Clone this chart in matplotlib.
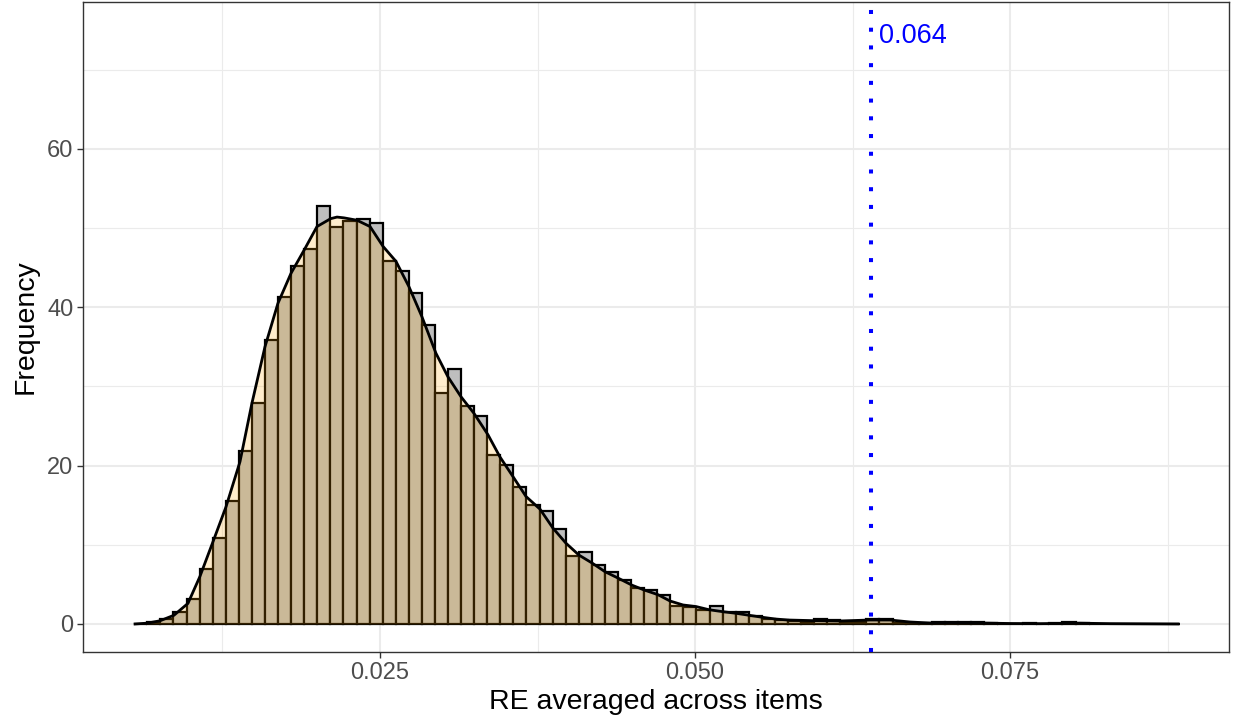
import numpy as np
import matplotlib
matplotlib.use("Agg")
from matplotlib import pyplot as plt

plt.rcParams['font.family'] = ['Liberation Sans', 'DejaVu Sans']

# histogram: 80 bins starting at 0.0055, width ~0.0010375
bin_start = 0.0055
bin_width = 0.0010375
counts = [0.05, 0.2, 0.6, 1.5, 3.1, 7.0, 10.8, 15.5, 21.8, 27.9,
          35.9, 41.3, 45.2, 47.4, 52.8, 50.1, 50.9, 51.1, 50.7, 45.8,
          44.6, 41.8, 37.8, 29.2, 32.2, 27.5, 26.3, 21.3, 20.1, 17.3,
          15.0, 14.3, 12.0, 8.6, 9.1, 7.45, 6.6, 5.6, 4.6, 4.35,
          3.66, 2.3, 2.2, 1.8, 2.25, 1.5, 1.5, 1.0, 0.65, 0.5,
          0.4, 0.3, 0.6, 0.45, 0.25, 0.3, 0.6, 0.6, 0.15, 0.1,
          0.1, 0.2, 0.25, 0.2, 0.25, 0.15, 0.05, 0.05, 0.1, 0.05,
          0.1, 0.2, 0.15, 0.05, 0.05, 0.0, 0.05, 0.0, 0.0, 0.05]

# density curve (scaled to counts)
dens_x = [0.00556, 0.00651, 0.00754, 0.00865, 0.00976, 0.01071, 0.01175, 0.01278,
          0.01389, 0.01484, 0.01587, 0.01690, 0.01794, 0.01897, 0.02000, 0.02109,
          0.02159, 0.02214, 0.02317, 0.02421, 0.02524, 0.02627, 0.02730, 0.02833,
          0.02944, 0.03040, 0.03143, 0.03246, 0.03357, 0.03452, 0.03556, 0.03659,
          0.03770, 0.03873, 0.03976, 0.04079, 0.04183, 0.04286, 0.04389, 0.04500,
          0.04595, 0.04706, 0.04802, 0.04905, 0.05008, 0.05111, 0.05222, 0.05325,
          0.05429, 0.05532, 0.05635, 0.05738, 0.05937, 0.06151, 0.06389, 0.06548,
          0.06706, 0.06865, 0.07024, 0.07262, 0.07500, 0.07738, 0.08056, 0.08294,
          0.08833]
dens_y = [0.0, 0.1, 0.4, 1.1, 2.6, 6.0, 10.4, 14.8,
          20.5, 27.9, 35.0, 40.5, 44.3, 47.2, 50.2, 51.2,
          51.4, 51.3, 51.0, 50.2, 47.7, 45.8, 42.6, 38.8,
          34.2, 31.2, 28.7, 26.6, 23.9, 21.1, 18.6, 16.1,
          14.5, 12.1, 10.2, 8.7, 7.7, 6.6, 5.8, 4.9,
          4.3, 3.7, 2.9, 2.4, 2.2, 1.8, 1.55, 1.35,
          1.1, 0.85, 0.63, 0.5, 0.42, 0.38, 0.5, 0.5,
          0.25, 0.12, 0.18, 0.12, 0.06, 0.04, 0.1, 0.04,
          0.0]

cutoff = 0.064
cutoff_label = '0.064'

edges = bin_start + bin_width * np.arange(len(counts) + 1)

fig = plt.figure(figsize=(12.33, 7.28), dpi=100)
ax = fig.add_axes([0.0673, 0.1044, 0.9295, 0.8929])

ax.bar(edges[:-1], counts, width=bin_width, align='edge',
       color='#BEBEBE', edgecolor='black', linewidth=1.6, zorder=2)
ax.fill_between(dens_x, 0, dens_y, color='orange', alpha=0.2, linewidth=0, zorder=3)
ax.plot(dens_x, dens_y, color='black', linewidth=2.0, zorder=4,
        solid_joinstyle='round')

ax.axvline(cutoff, color='blue', linewidth=2.9, linestyle=(0, (1, 3.4)), zorder=5)
ax.text(cutoff + 0.0006, 74.3, cutoff_label, color='blue', fontsize=19.5,
        ha='left', va='center', zorder=6)

ax.set_xlim(0.00143, 0.09238)
ax.set_ylim(-3.54, 78.57)
ax.set_xticks([0.025, 0.050, 0.075])
ax.set_xticklabels(['0.025', '0.050', '0.075'])
ax.set_yticks([0, 20, 40, 60])
ax.set_xticks([0.0125, 0.0375, 0.0625, 0.0875], minor=True)
ax.set_yticks([10, 30, 50, 70], minor=True)

ax.set_axisbelow(True)
ax.grid(which='major', color='#EBEBEB', linewidth=1.5)
ax.grid(which='minor', color='#EBEBEB', linewidth=0.8)
ax.tick_params(which='major', length=4, width=1, color='#333333',
               labelsize=17, labelcolor='#4D4D4D', pad=3)
ax.tick_params(which='minor', length=0)
for s in ax.spines.values():
    s.set_color('#333333')
    s.set_linewidth(1.0)

ax.set_xlabel('RE averaged across items', fontsize=20.5, labelpad=4)
ax.set_ylabel('Frequency', fontsize=20.5, labelpad=6)

fig.savefig('out.png', dpi=100)
